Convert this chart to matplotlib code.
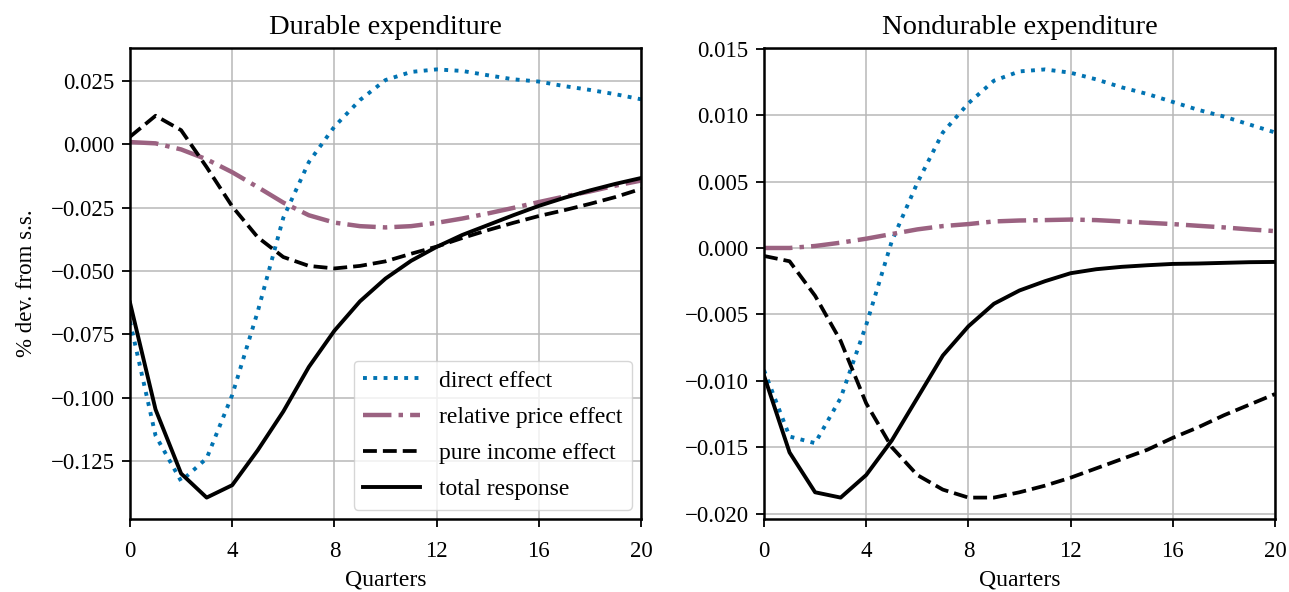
import numpy as np
import matplotlib
matplotlib.use("Agg")
from matplotlib import pyplot as plt

plt.rcParams['font.family'] = ['Liberation Serif', 'DejaVu Serif']
plt.rcParams['mathtext.fontset'] = 'dejavuserif'

quarters = np.arange(21)

# durable expenditure
dur_direct = [-0.070, -0.115, -0.133, -0.124, -0.099, -0.066, -0.029, -0.007, 0.007, 0.0175,
              0.0254, 0.0286, 0.0296, 0.029, 0.0273, 0.0257, 0.0248, 0.023, 0.0215, 0.0198, 0.0178]
dur_price = [0.0009, 0.0004, -0.002, -0.0059, -0.011, -0.0169, -0.023, -0.028, -0.0309, -0.0323,
             -0.0328, -0.0323, -0.031, -0.0293, -0.0273, -0.0251, -0.0228, -0.0206, -0.0186, -0.0163, -0.0143]
dur_income = [0.003, 0.0113, 0.0056, -0.009, -0.0245, -0.0367, -0.0445, -0.048, -0.049, -0.048,
              -0.0462, -0.0432, -0.0404, -0.037, -0.0339, -0.031, -0.0283, -0.026, -0.0235, -0.0208, -0.0176]
dur_total = [-0.0625, -0.1047, -0.130, -0.1395, -0.1346, -0.1208, -0.1055, -0.0879, -0.0736, -0.062,
             -0.053, -0.046, -0.0405, -0.0358, -0.0319, -0.028, -0.0243, -0.0211, -0.0182, -0.0156, -0.0133]

# nondurable expenditure
nd_direct = [-0.0092, -0.0142, -0.0147, -0.0113, -0.0058, 0.0005, 0.0049, 0.0087, 0.0109, 0.0126,
             0.0133, 0.01345, 0.0132, 0.0127, 0.0121, 0.0116, 0.0110, 0.0104, 0.0099, 0.0093, 0.0087]
nd_price = [0.0, 0.0, 0.00015, 0.0004, 0.0007, 0.00105, 0.0014, 0.00165, 0.0018, 0.002,
            0.00207, 0.0021, 0.00214, 0.0021, 0.002, 0.0019, 0.0018, 0.00167, 0.00155, 0.0014, 0.00127]
nd_income = [-0.0006, -0.001, -0.0036, -0.007, -0.0117, -0.0150, -0.0171, -0.0182, -0.0188, -0.0188,
             -0.0184, -0.0179, -0.0173, -0.0166, -0.0159, -0.0152, -0.0143, -0.0135, -0.0126, -0.0118, -0.0110]
nd_total = [-0.0096, -0.0154, -0.0184, -0.0188, -0.0171, -0.0145, -0.0113, -0.0081, -0.0059, -0.0042,
            -0.0032, -0.0025, -0.0019, -0.0016, -0.00142, -0.0013, -0.0012, -0.00117, -0.00112, -0.00107, -0.00105]

labels = ['direct effect', 'relative price effect', 'pure income effect', 'total response']
titles = ['Durable expenditure', 'Nondurable expenditure']

fig = plt.figure(figsize=(12.89, 5.92), dpi=100)
ax1 = fig.add_axes([130/1289, 73/592, 511/1289, 471/592])
ax2 = fig.add_axes([764/1289, 73/592, 511/1289, 471/592])

for ax, series, title in zip([ax1, ax2],
                             [(dur_direct, dur_price, dur_income, dur_total),
                              (nd_direct, nd_price, nd_income, nd_total)],
                             titles):
    d, p, i, t = series
    ax.plot(quarters, d, color='#0173b2', linestyle=':', linewidth=2.8, label=labels[0])
    ax.plot(quarters, p, color='#9b6281', linestyle='-.', linewidth=3.2, label=labels[1])
    ax.plot(quarters, i, color='black', linestyle='--', linewidth=2.7, label=labels[2])
    ax.plot(quarters, t, color='black', linestyle='-', linewidth=2.8, label=labels[3])
    ax.set_xlim(0, 20)
    ax.set_xticks([0, 4, 8, 12, 16, 20])
    ax.grid(True, color='#b8b8b8', linewidth=1.1)
    ax.set_title(title, fontsize=20.5, pad=10)
    ax.set_xlabel('Quarters', fontsize=17, labelpad=5)
    ax.tick_params(labelsize=16.5, length=6, width=1.3, pad=5)
    ax.tick_params(axis='x', pad=10)
    for s in ax.spines.values():
        s.set_linewidth(1.8)

ax1.set_ylabel('% dev. from s.s.', fontsize=16.5, labelpad=10)
ax1.legend(loc='lower right', fontsize=17, framealpha=0.8, handlelength=2.4,
           borderaxespad=0.4, labelspacing=0.62)

fig.savefig('out.png', dpi=100)
